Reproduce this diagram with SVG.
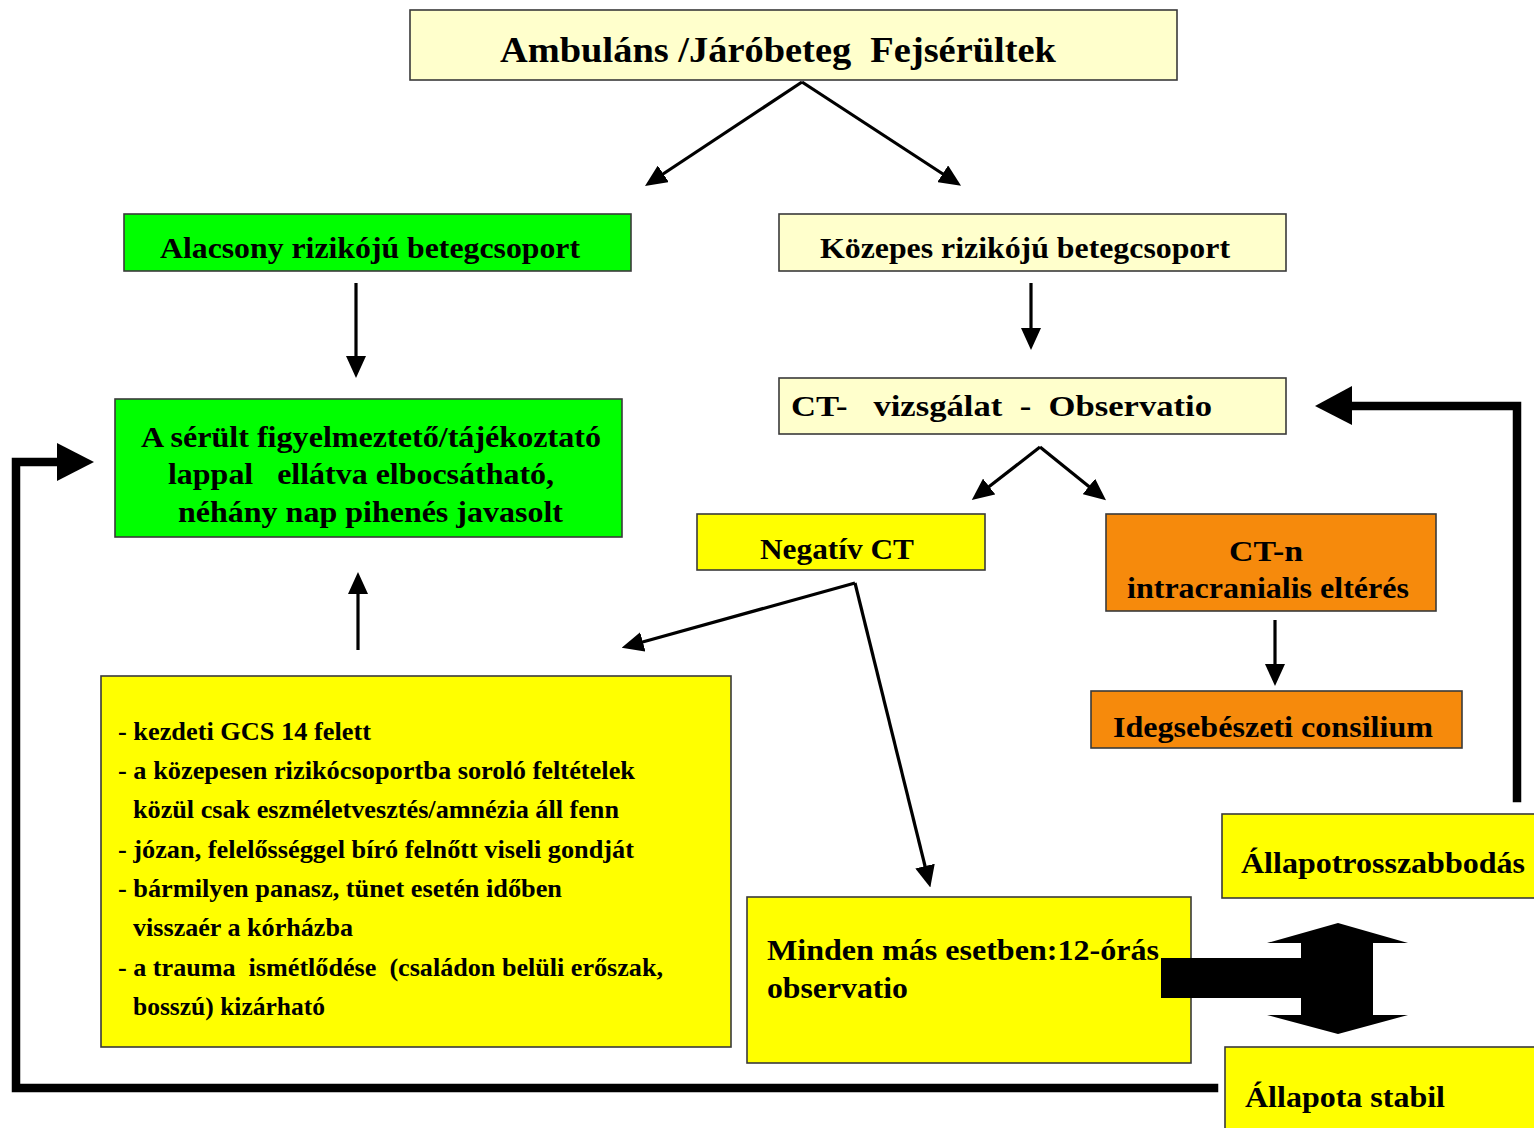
<svg xmlns="http://www.w3.org/2000/svg" width="1534" height="1128" viewBox="0 0 1534 1128" xml:space="preserve">
<style>
.box{stroke:#3a3a3a;stroke-width:1.6}
.ly{fill:#FFFFCC}.gr{fill:#00FF00}.ye{fill:#FFFF00}.or{fill:#F68A0C}
text{font-weight:bold;fill:#000;white-space:pre}
.t34{font-size:36px}.t30{font-size:30px}.t25{font-size:25px}
.thin{fill:none;stroke:#000;stroke-width:3.2}
.thick{fill:none;stroke:#000;stroke-width:8.5;stroke-linejoin:miter;stroke-linecap:square}
</style>
<defs>
<marker id="ah" markerUnits="userSpaceOnUse" markerWidth="22" markerHeight="20" viewBox="0 0 22 20" refX="4" refY="10" orient="auto">
<path d="M0,0 L22,10 L0,20 z" fill="#000"/>
</marker>
</defs>
<rect width="1534" height="1128" fill="#fff"/>
<g font-family="'Liberation Serif', Tinos, 'Times New Roman', Times, serif">
<g id="n-top"><rect class="box ly" x="410" y="10" width="767" height="70"/>
<text class="t34" x="500" y="62" textLength="556" lengthAdjust="spacingAndGlyphs">Ambuláns /Járóbeteg  Fejsérültek</text></g>

<g id="n-low"><rect class="box gr" x="124" y="214" width="507" height="57"/>
<text class="t30" x="160" y="258" textLength="420" lengthAdjust="spacingAndGlyphs">Alacsony rizikójú betegcsoport</text></g>

<g id="n-mid"><rect class="box ly" x="779" y="214" width="507" height="57"/>
<text class="t30" x="820" y="258" textLength="410" lengthAdjust="spacingAndGlyphs">Közepes rizikójú betegcsoport</text></g>

<g id="n-discharge"><rect class="box gr" x="115" y="399" width="507" height="138"/>
<text class="t30" x="141" y="447" textLength="460" lengthAdjust="spacingAndGlyphs">A sérült figyelmeztető/tájékoztató</text>
<text class="t30" x="168" y="484" textLength="386" lengthAdjust="spacingAndGlyphs">lappal   ellátva elbocsátható,</text>
<text class="t30" x="178" y="522" textLength="385" lengthAdjust="spacingAndGlyphs">néhány nap pihenés javasolt</text></g>

<g id="n-ct"><rect class="box ly" x="779" y="378" width="507" height="56"/>
<text class="t30" x="791" y="416" textLength="421" lengthAdjust="spacingAndGlyphs">CT-   vizsgálat  -  Observatio</text></g>

<g id="n-neg"><rect class="box ye" x="697" y="514" width="288" height="56"/>
<text class="t30" x="760" y="559" textLength="154" lengthAdjust="spacingAndGlyphs">Negatív CT</text></g>

<g id="n-ctn"><rect class="box or" x="1106" y="514" width="330" height="97"/>
<text class="t30" x="1229" y="561" textLength="74" lengthAdjust="spacingAndGlyphs">CT-n</text>
<text class="t30" x="1127" y="598" textLength="282" lengthAdjust="spacingAndGlyphs">intracranialis eltérés</text></g>

<g id="n-ideg"><rect class="box or" x="1091" y="691" width="371" height="57"/>
<text class="t30" x="1113" y="737" textLength="320" lengthAdjust="spacingAndGlyphs">Idegsebészeti consilium</text></g>

<g id="n-list"><rect class="box ye" x="101" y="676" width="630" height="371"/>
<text class="t25" x="118" y="740" textLength="253" lengthAdjust="spacingAndGlyphs">- kezdeti GCS 14 felett</text>
<text class="t25" x="118" y="779" textLength="517" lengthAdjust="spacingAndGlyphs">- a közepesen rizikócsoportba soroló feltételek</text>
<text class="t25" x="133" y="818" textLength="486" lengthAdjust="spacingAndGlyphs">közül csak eszméletvesztés/amnézia áll fenn</text>
<text class="t25" x="118" y="858" textLength="516" lengthAdjust="spacingAndGlyphs">- józan, felelősséggel bíró felnőtt viseli gondját</text>
<text class="t25" x="118" y="897" textLength="444" lengthAdjust="spacingAndGlyphs">- bármilyen panasz, tünet esetén időben</text>
<text class="t25" x="133" y="936" textLength="220" lengthAdjust="spacingAndGlyphs">visszaér a kórházba</text>
<text class="t25" x="118" y="976" textLength="545" lengthAdjust="spacingAndGlyphs">- a trauma  ismétlődése  (családon belüli erőszak,</text>
<text class="t25" x="133" y="1015" textLength="192" lengthAdjust="spacingAndGlyphs">bosszú) kizárható</text></g>

<g id="n-minden"><rect class="box ye" x="747" y="897" width="444" height="166"/>
<text class="t30" x="767" y="960" textLength="392" lengthAdjust="spacingAndGlyphs">Minden más esetben:12-órás</text>
<text class="t30" x="767" y="998" textLength="141" lengthAdjust="spacingAndGlyphs">observatio</text></g>

<g id="n-rossz"><rect class="box ye" x="1222" y="814" width="320" height="84"/>
<text class="t30" x="1241" y="873" textLength="284" lengthAdjust="spacingAndGlyphs">Állapotrosszabbodás</text></g>

<g id="n-stabil"><rect class="box ye" x="1225" y="1047" width="320" height="90"/>
<text class="t30" x="1245" y="1107" textLength="200" lengthAdjust="spacingAndGlyphs">Állapota stabil</text></g>
</g>
<g id="connectors">
<path class="thin" d="M802,82 L660,176" marker-end="url(#ah)"/>
<path class="thin" d="M802,82 L946,176" marker-end="url(#ah)"/>
<path class="thin" d="M356,283 L356,360" marker-end="url(#ah)"/>
<path class="thin" d="M1031,283 L1031,332" marker-end="url(#ah)"/>
<path class="thin" d="M1040,447 L986,489" marker-end="url(#ah)"/>
<path class="thin" d="M1040,447 L1092,489" marker-end="url(#ah)"/>
<path class="thin" d="M855,583 L639,643" marker-end="url(#ah)"/>
<path class="thin" d="M855,583 L926,870" marker-end="url(#ah)"/>
<path class="thin" d="M1275,620 L1275,668" marker-end="url(#ah)"/>
<path class="thin" d="M358,650 L358,590" marker-end="url(#ah)"/>
<path class="thick" d="M1517,798 L1517,406 L1352,406"/>
<polygon points="1315,406 1352,386 1352,425" fill="#000"/>
<path class="thick" d="M1214,1088 L16,1088 L16,462 L58,462"/>
<polygon points="94,462 57,443 57,481" fill="#000"/>
<rect x="1161" y="958" width="142" height="40" fill="#000"/>
<polygon points="1338,923 1408,943 1373,943 1373,1015 1408,1015 1338,1034 1267,1015 1301,1015 1301,943 1267,943" fill="#000"/>
</g>
</svg>
